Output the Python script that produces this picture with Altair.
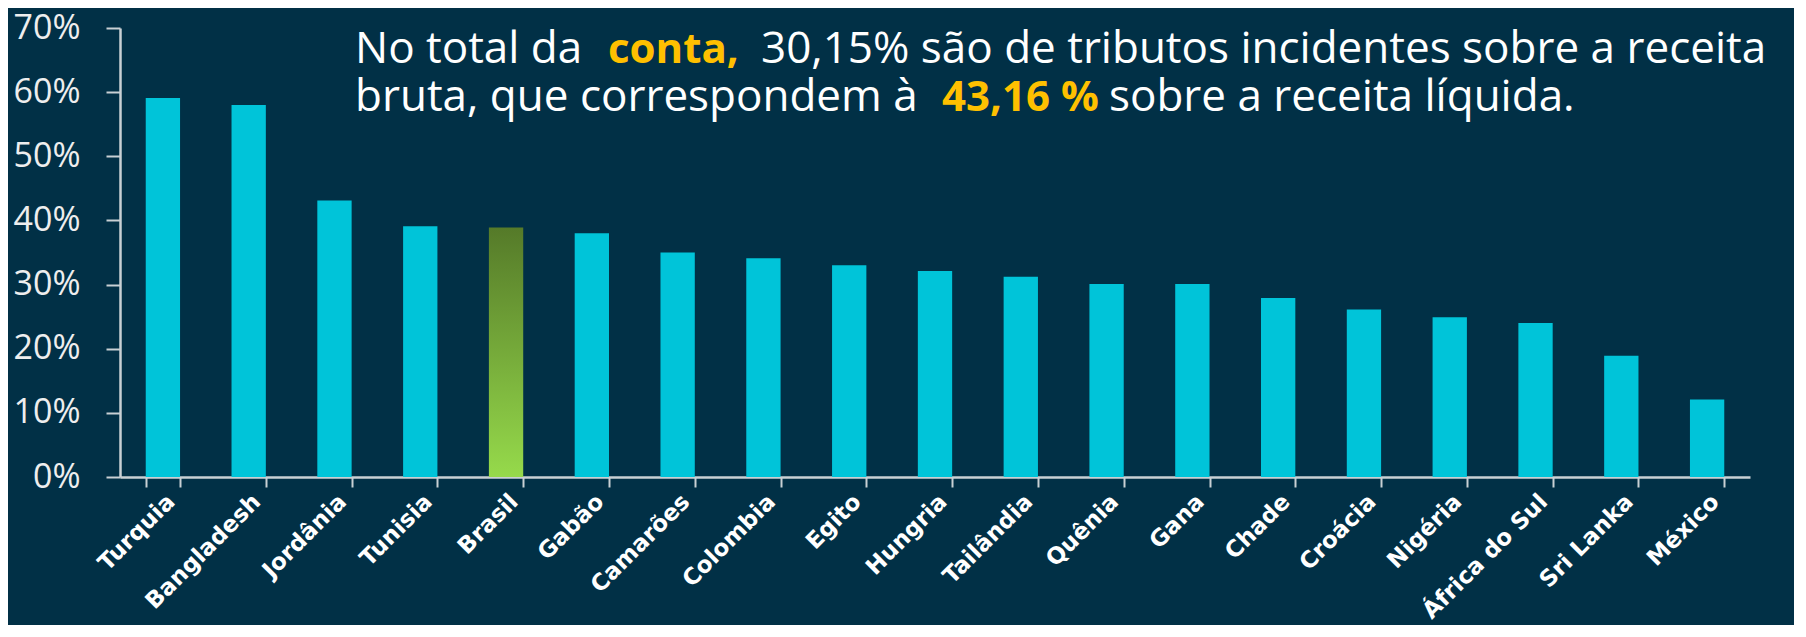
import altair as alt
import pandas as pd

countries = ["Turquia", "Bangladesh", "Jordânia", "Tunisia", "Brasil", "Gabão", "Camarões",
             "Colombia", "Egito", "Hungria", "Tailândia", "Quênia", "Gana", "Chade", "Croácia",
             "Nigéria", "África do Sul", "Sri Lanka", "México"]
values = [59.1, 58.0, 43.1, 39.1, 38.9, 38.0, 35.0, 34.1, 33.0, 32.1, 31.2, 30.1, 30.1, 27.9,
          26.1, 24.9, 24.0, 18.9, 12.1]
y_ticks = [0, 10, 20, 30, 40, 50, 60, 70]
highlight = "Brasil"

text_segments = ["No total da", "conta,", "30,15% são de tributos incidentes sobre a receita",
                 "bruta, que correspondem à", "43,16 %", "sobre a receita líquida."]
text_bold = [False, True, False, False, True, False]
text_x = [235, 488, 641, 235, 822, 989]
text_y = [35, 35, 35, 83, 83, 83]

BG = "#013046"
CYAN = "#00C4D9"
ORANGE = "#FFC000"
AXIS = "#C9D0D4"

df = pd.DataFrame({"pais": countries, "valor": values})

x_enc = alt.X("pais:N", sort=countries,
              scale=alt.Scale(paddingInner=0.6, paddingOuter=0.3),
              axis=alt.Axis(title=None, labelAngle=-45, labelFont="DejaVu Sans", labelFontWeight="bold",
                            labelFontSize=23, labelColor="#FFFFFF", labelPadding=3,
                            tickBand="extent", tickSize=10, tickWidth=2, tickColor=AXIS,
                            domainColor=AXIS, domainWidth=2.5, grid=False))
y_enc = alt.Y("valor:Q", scale=alt.Scale(domain=[0, 70], nice=False),
              axis=alt.Axis(title=None, values=y_ticks, labelExpr="datum.value + '%'",
                            labelFont="Open Sans", labelFontSize=34, labelColor="#EEEEEE",
                            labelPadding=26, tickSize=14, tickWidth=2, tickColor=AXIS,
                            domainColor=AXIS, domainWidth=2.5, grid=False))

base = alt.Chart(df).encode(x=x_enc, y=y_enc)

bars = base.mark_bar(color=CYAN).transform_filter(alt.datum.pais != highlight)
brasil = base.mark_bar(
    color=alt.Gradient(gradient="linear", x1=0, y1=0, x2=0, y2=1,
                       stops=[alt.GradientStop(color="#557A29", offset=0),
                              alt.GradientStop(color="#96DA4B", offset=1)])
).transform_filter(alt.datum.pais == highlight)

layers = [bars, brasil]
for seg, bold, tx, ty in zip(text_segments, text_bold, text_x, text_y):
    layers.append(
        alt.Chart(pd.DataFrame({"t": [seg]})).mark_text(
            align="left", baseline="alphabetic", font="Open Sans",
            fontSize=42 if bold else 44,
            fontWeight="bold" if bold else "normal",
            color=ORANGE if bold else "#FFFFFF"
        ).encode(text="t:N", x=alt.value(tx), y=alt.value(ty))
    )

chart = alt.layer(*layers).properties(
    width=1630, height=449,
    autosize=alt.AutoSizeParams(type="none"),
    padding={"left": 112, "top": 20, "right": 44, "bottom": 148},
    background=BG,
).configure_view(stroke=None)

chart.save("out.html", embed_options={"renderer": "svg", "actions": False})
